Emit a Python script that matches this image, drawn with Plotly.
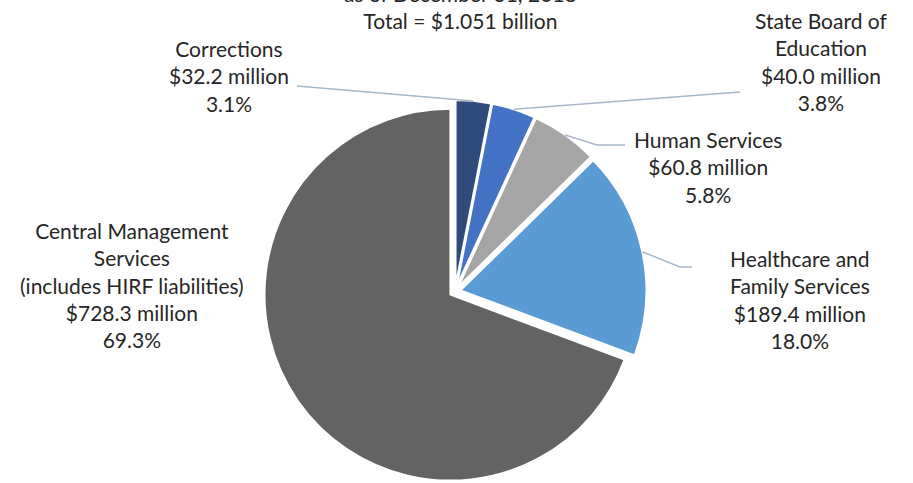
import math
import plotly.graph_objects as go

# Liabilities by agency, in millions of dollars
agencies = ["Corrections", "State Board of Education", "Human Services",
            "Healthcare and Family Services", "Central Management Services"]
amounts = [32.2, 40.0, 60.8, 189.4, 728.3]
label_names = [
    "Corrections",
    "State Board of<br>Education",
    "Human Services",
    "Healthcare and<br>Family Services",
    "Central Management<br>Services<br>(includes HIRF liabilities)",
]
colors = ["#2F4B7C", "#4472C4", "#A5A5A5", "#5B9BD5", "#636363"]
title_lines = ["as of December 31, 2018", "Total = $1.051 billion"]

W, H = 913, 483
FONT = "Lato"
TEXT_COLOR = "#262626"
LEADER_COLOR = "#A9B7CA"

# pie placement in pixels
pie_cx = 455
pie_top = 100
half_w = 200
pull = 0.03

dom_x = [(pie_cx - half_w) / W, (pie_cx + half_w) / W]
dom_y = [0, 1 - pie_top / H]

total = sum(amounts)

fig = go.Figure(go.Pie(
    labels=agencies,
    values=amounts,
    sort=False,
    direction="clockwise",
    rotation=0,
    pull=[pull] * len(amounts),
    marker=dict(colors=colors, line=dict(color="white", width=2)),
    textinfo="none",
    hoverinfo="label+value+percent",
    showlegend=False,
    domain=dict(x=dom_x, y=dom_y),
))

# same geometry plotly uses to size the pie
ry = (H * (dom_y[1] - dom_y[0])) / 2
rx = (W * (dom_x[1] - dom_x[0])) / 2
radius = min(rx, ry) / (1 + pull)
pie_cy = H * (1 - dom_y[0]) - ry


def px_to_paper(x, y):
    return x / W, 1 - y / H


def slice_edge(i):
    before = sum(amounts[:i])
    theta = 2 * math.pi * (before + amounts[i] / 2) / total
    d = radius * (1 + pull)
    return pie_cx + d * math.sin(theta), pie_cy - d * math.cos(theta)


# label block centres (pixels) and leader-line routes toward the text
label_pos = [(229, 76), (821, 61), (708, 167), (800, 299), (132, 285)]
leader_routes = {
    0: [(297, 86)],
    1: [(740, 92)],
    2: [(597, 145), (625, 145)],
    3: [(680, 267), (692, 267)],
}

annotations = []
for i, (name, val) in enumerate(zip(label_names, amounts)):
    pct = 100 * val / total
    text = f"{name}<br>${val:.1f} million<br>{pct:.1f}%"
    x, y = px_to_paper(*label_pos[i])
    annotations.append(dict(
        x=x, y=y, xref="paper", yref="paper", text=text, showarrow=False,
        xanchor="center", yanchor="middle", align="center",
        font=dict(family=FONT, size=21, color=TEXT_COLOR),
    ))

tx, ty = px_to_paper(460, 7)
annotations.append(dict(
    x=tx, y=ty, xref="paper", yref="paper", text="<br>".join(title_lines),
    showarrow=False, xanchor="center", yanchor="middle", align="center",
    font=dict(family=FONT, size=21, color=TEXT_COLOR),
))

shapes = []
for i, route in leader_routes.items():
    pts = [slice_edge(i)] + route
    pp = [px_to_paper(*p) for p in pts]
    path = "M " + " L ".join(f"{a:.5f},{b:.5f}" for a, b in pp)
    shapes.append(dict(type="path", path=path, xref="paper", yref="paper",
                       line=dict(color=LEADER_COLOR, width=1.5)))

fig.update_layout(
    width=W, height=H,
    margin=dict(l=0, r=0, t=0, b=0),
    paper_bgcolor="white",
    plot_bgcolor="white",
    annotations=annotations,
    shapes=shapes,
)

fig.write_html("out.html")
